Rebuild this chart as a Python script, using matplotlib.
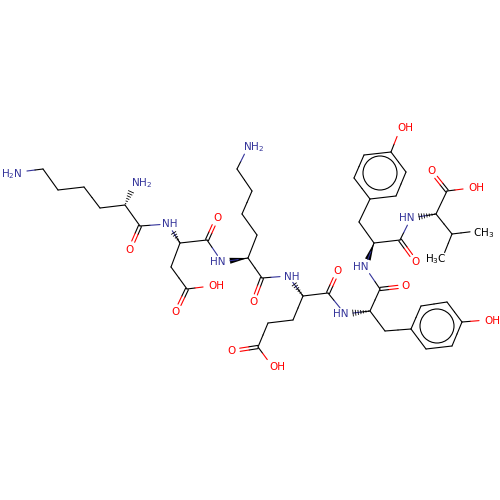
import numpy as np
import matplotlib
matplotlib.use('Agg')
import matplotlib.pyplot as plt
from matplotlib.patches import Circle

BLUE = '#33339a'
RED = '#ff0000'

# atom positions
atom_id = ['n1', 'c1', 'c2', 'c3', 'c4', 'c5', 'n2', 'c6', 'o1',
           'n3', 'c7', 'c8', 'o2', 'c9', 'c10', 'o3', 'o4',
           'n4', 'c11', 'c12', 'c13', 'c14', 'c15', 'n5', 'c16', 'o5',
           'n6', 'c17', 'c18', 'o6', 'c19', 'c20', 'c21', 'o7', 'o8',
           'n7', 'c22', 'c23', 'o9', 'c24', 'a1', 'a2', 'a3', 'a4', 'a5', 'a6', 'o13',
           'n8', 'c25', 'c26', 'o10', 'c27', 'b1', 'b2', 'b3', 'b4', 'b5', 'b6', 'o14',
           'n9', 'c28', 'c29', 'o11', 'o12', 'c30', 'c31', 'c32']
atom_x = [19, 43, 58, 84, 100, 125, 135, 140, 130,
          168, 180, 207, 217, 171, 187, 211, 176,
          222, 248, 257, 242, 252, 237, 248, 262, 253,
          288, 303, 328, 338, 293, 268, 258, 232, 272,
          345, 370, 380, 406, 385, 411, 421, 447, 462, 452, 426, 487,
          365, 374, 400, 416, 359, 370, 354, 364, 391, 406, 396, 400,
          411, 436, 447, 431, 471, 452, 477, 442]
atom_y = [172, 169, 190, 187, 208, 205, 183, 226, 249,
          224, 243, 240, 218, 267, 289, 286, 312,
          262, 258, 235, 214, 191, 169, 147, 278, 302,
          276, 296, 293, 271, 320, 323, 347, 351, 366,
          314, 311, 289, 286, 331, 329, 306, 302, 322, 346, 349, 320,
          267, 243, 240, 262, 222, 199, 178, 155, 152, 172, 196, 129,
          218, 214, 191, 171, 188, 234, 231, 259]

bond_a = ['n1', 'c1', 'c2', 'c3', 'c4', 'c5', 'c6', 'c6', 'n3', 'c7', 'c8', 'c8', 'c7', 'c9', 'c10', 'c10',
          'n4', 'c11', 'c12', 'c13', 'c14', 'c15', 'c11', 'c16', 'c16', 'n6', 'c17', 'c18', 'c18', 'c17', 'c19', 'c20', 'c21', 'c21',
          'n7', 'c22', 'c23', 'c23', 'c22', 'c24', 'a1', 'a2', 'a3', 'a4', 'a5', 'a6', 'a4',
          'n8', 'c25', 'c26', 'c26', 'c25', 'c27', 'b1', 'b2', 'b3', 'b4', 'b5', 'b6', 'b4',
          'n9', 'c28', 'c29', 'c29', 'c28', 'c30', 'c30']
bond_b = ['c1', 'c2', 'c3', 'c4', 'c5', 'c6', 'o1', 'n3', 'c7', 'c8', 'o2', 'n4', 'c9', 'c10', 'o3', 'o4',
          'c11', 'c12', 'c13', 'c14', 'c15', 'n5', 'c16', 'o5', 'n6', 'c17', 'c18', 'o6', 'n7', 'c19', 'c20', 'c21', 'o7', 'o8',
          'c22', 'c23', 'o9', 'n8', 'c24', 'a1', 'a2', 'a3', 'a4', 'a5', 'a6', 'a1', 'o13',
          'c25', 'c26', 'o10', 'n9', 'c27', 'b1', 'b2', 'b3', 'b4', 'b5', 'b6', 'b1', 'o14',
          'c28', 'c29', 'o11', 'o12', 'c30', 'c31', 'c32']
bond_kind = ['s', 's', 's', 's', 's', 's', 'd', 's', 's', 's', 'd', 's', 's', 's', 's', 'd',
             's', 's', 's', 's', 's', 's', 's', 'd', 's', 's', 's', 'd', 's', 's', 's', 's', 'd', 's',
             's', 's', 'd', 's', 's', 's', 's', 's', 's', 's', 's', 's', 's',
             's', 's', 'd', 's', 's', 's', 's', 's', 's', 's', 's', 's', 's',
             's', 's', 'd', 's', 's', 's', 's']

# stereo bonds, narrow end first
hash_from = ['c5', 'c7', 'c17', 'c22', 'c28']
hash_to = ['n2', 'n3', 'n6', 'n7', 'n9']
wedge_from = ['c11', 'c25']
wedge_to = ['n4', 'n8']

label_text = ['H$_2$N', 'NH$_2$', 'O', 'NH', 'O', 'OH', 'O', 'HN', 'NH$_2$', 'O', 'NH', 'O', 'O', 'OH',
              'HN', 'O', 'OH', 'HN', 'O', 'OH', 'HN', 'O', 'OH', 'CH$_3$', 'H$_3$C']
label_x = [12, 142, 130, 170, 217, 216, 176, 218, 254, 253, 292, 338, 232, 277,
           341, 406, 492, 361, 416, 405, 407, 431, 476, 484, 436]
label_y = [174, 183, 250, 224, 218, 286, 312, 262, 147, 302, 277, 271, 351, 367,
           314, 286, 321, 267, 262, 128, 218, 171, 188, 233, 259]
label_color = [BLUE, BLUE, RED, BLUE, RED, RED, RED, BLUE, BLUE, RED, BLUE, RED, RED, RED,
               BLUE, RED, RED, BLUE, RED, RED, BLUE, RED, RED, 'black', 'black']

ring_x = [437, 380]
ring_y = [326, 173]
ring_r = [17, 17]

pos = {a: np.array([x, y], dtype=float) for a, x, y in zip(atom_id, atom_x, atom_y)}


def atom_color(a):
    if a[0] == 'n':
        return BLUE
    if a[0] == 'o':
        return RED
    return 'black'


def trim(a):
    if a[0] == 'o':
        return 8.0
    if a[0] == 'n':
        return 8.0
    if a in ('c31', 'c32'):
        return 7.0
    return 0.0


def draw_line(ax, p, q, a, b):
    # each half of the drawn segment takes the colour of its own atom
    mid = (p + q) / 2
    ax.plot([p[0], mid[0]], [p[1], mid[1]], color=atom_color(a), lw=0.8, solid_capstyle='round')
    ax.plot([mid[0], q[0]], [mid[1], q[1]], color=atom_color(b), lw=0.8, solid_capstyle='round')


fig = plt.figure(figsize=(5, 5), dpi=100)
ax = fig.add_axes([0, 0, 1, 1])
ax.set_xlim(0, 500)
ax.set_ylim(500, 0)
ax.axis('off')

for a, b, kind in zip(bond_a, bond_b, bond_kind):
    p, q = pos[a], pos[b]
    unit = (q - p) / np.linalg.norm(q - p)
    p2 = p + unit * trim(a)
    q2 = q - unit * trim(b)
    if kind == 's':
        draw_line(ax, p2, q2, a, b)
    else:
        normal = np.array([-unit[1], unit[0]]) * 1.6
        draw_line(ax, p2 + normal, q2 + normal, a, b)
        draw_line(ax, p2 - normal, q2 - normal, a, b)

for a, b in zip(hash_from, hash_to):
    p, q = pos[a], pos[b]
    length = np.linalg.norm(q - p) - trim(b)
    unit = (q - p) / np.linalg.norm(q - p)
    normal = np.array([-unit[1], unit[0]])
    for d in np.arange(1.5, length, 2.6):
        c = p + unit * d
        half = 3.0 * d / length
        ax.plot([c[0] - normal[0] * half, c[0] + normal[0] * half],
                [c[1] - normal[1] * half, c[1] + normal[1] * half], color='black', lw=0.6)

for a, b in zip(wedge_from, wedge_to):
    p, q = pos[a], pos[b]
    unit = (q - p) / np.linalg.norm(q - p)
    end = q - unit * trim(b)
    normal = np.array([-unit[1], unit[0]]) * 3.0
    ax.fill([p[0], end[0] + normal[0], end[0] - normal[0]],
            [p[1], end[1] + normal[1], end[1] - normal[1]], color='black', lw=0)

for x, y, r in zip(ring_x, ring_y, ring_r):
    ax.add_patch(Circle((x, y), r, fill=False, edgecolor='black', lw=0.8))

for s, x, y, c in zip(label_text, label_x, label_y, label_color):
    ax.text(x, y, s, color=c, fontsize=7.5, ha='center', va='center', family='DejaVu Sans')

fig.savefig('out.png', dpi=100, facecolor='white')
